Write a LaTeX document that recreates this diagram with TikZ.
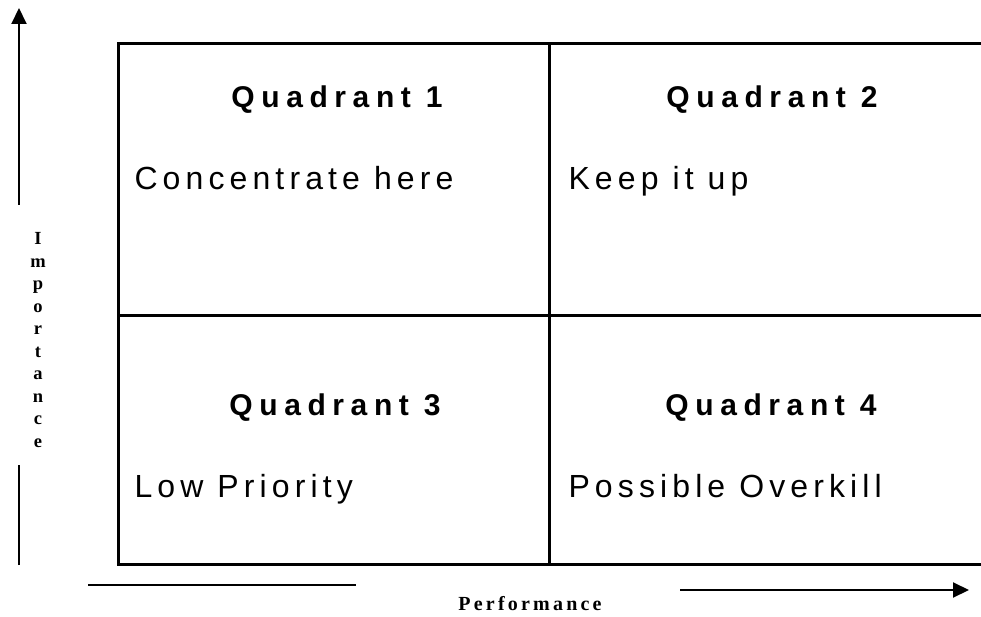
\documentclass[tikz,border=0pt]{standalone}
\usepackage{fontspec}
\setmainfont{Liberation Serif}
\setsansfont{Liberation Sans}
\usetikzlibrary{arrows.meta, positioning}

\begin{document}
\begin{tikzpicture}[x=1pt, y=-1pt,
  title/.style={anchor=base, font=\fontsize{30}{30}\selectfont\sffamily\bfseries\addfontfeature{LetterSpace=22}},
  note/.style={anchor=base west, font=\fontsize{32}{32}\selectfont\sffamily\addfontfeature{LetterSpace=16}},
  axislabel/.style={font=\fontsize{18.5}{22.5}\selectfont\rmfamily\bfseries, align=center},
  border/.style={line width=3pt},
  axisline/.style={line width=2pt},
  tip/.style={-{Triangle[length=16pt, width=15pt]}}]

\useasboundingbox (0,0) rectangle (981,617);

% corners of the grid
\coordinate (TL) at (118,44);
\coordinate (TM) at (549,44);
\coordinate (TR) at (985,44);
\coordinate (ML) at (118,315);
\coordinate (MR) at (985,315);
\coordinate (BL) at (118,564);
\coordinate (BM) at (549,564);
\coordinate (BR) at (985,564);

% axis ends
\coordinate (ImpLow) at (19,565);
\coordinate (ImpGap) at (19,465);
\coordinate (ImpMid) at (19,205);
\coordinate (ImpTop) at (19,8);
\coordinate (PerfLeft) at (88,585);
\coordinate (PerfGap) at (356,585);
\coordinate (PerfMid) at (680,590);
\coordinate (PerfRight) at (969,590);

% nodes
\node[title] (Q1) at (337,108) {Quadrant 1};
\node[title] (Q2) at (772,108) {Quadrant 2};
\node[title] (Q3) at (335,415) {Quadrant 3};
\node[title] (Q4) at (771,415) {Quadrant 4};

\node[note] (N1) at (131,190) {Concentrate here};
\node[note] (N2) at (565,190) {Keep it up};
\node[note] (N3) at (131,497) {Low Priority};
\node[note] (N4) at (565,497) {Possible Overkill};

\node[axislabel] (Imp) at (38,340) {I\\m\\p\\o\\r\\t\\a\\n\\c\\e};
\node[axislabel, font=\fontsize{20}{20}\selectfont\rmfamily\bfseries\addfontfeature{LetterSpace=16}] (Perf) at (530,604) {Performance};

% grid
\draw[border] (TR) -- (TL) -- (BL) -- (BR);
\draw[border] (ML) -- (MR);
\draw[border] (TM) -- (BM);

% arrows
\draw[axisline] (ImpLow) -- (ImpGap);
\draw[axisline, tip] (ImpMid) -- (ImpTop);
\draw[axisline] (PerfLeft) -- (PerfGap);
\draw[axisline, tip] (PerfMid) -- (PerfRight);

\end{tikzpicture}
\end{document}
